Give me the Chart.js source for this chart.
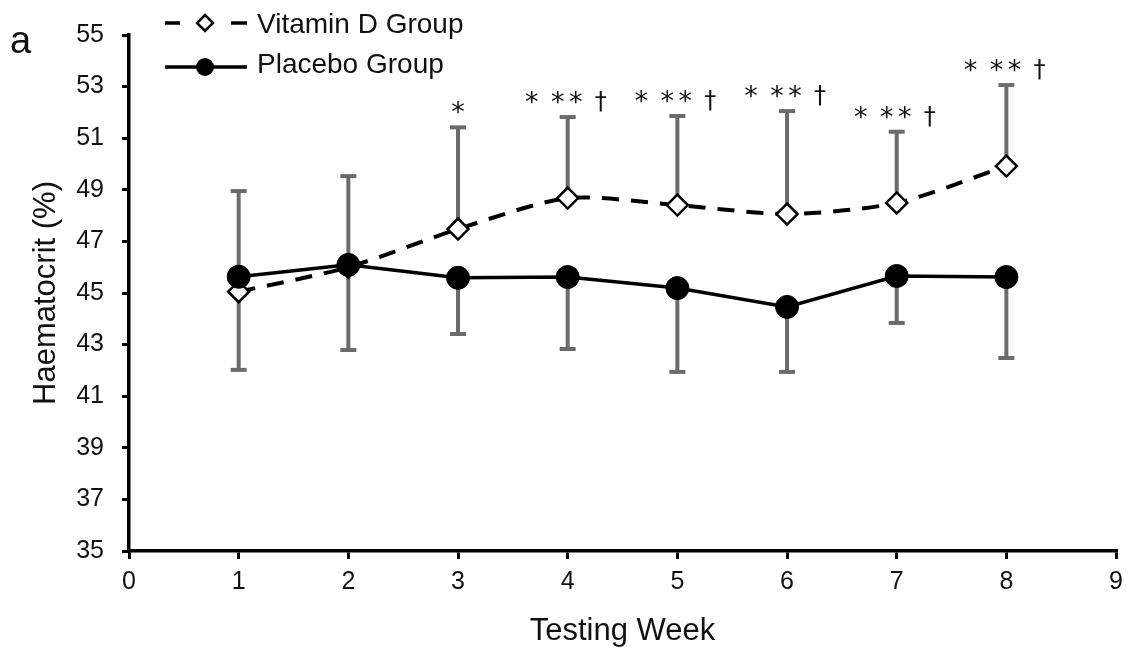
<!DOCTYPE html>
<html>
<head>
<meta charset="utf-8">
<script src="https://cdn.jsdelivr.net/npm/chart.js@4.4.1/dist/chart.umd.min.js"></script>
<style>
  html, body { margin: 0; padding: 0; background: #fff; }
  #wrap { width: 1131px; height: 651px; }
</style>
</head>
<body>
<div id="wrap"><canvas id="c" width="1131" height="651"></canvas></div>
<script>
// ---- data ----
const weeks = [1, 2, 3, 4, 5, 6, 7, 8];
const vitaminD = [45.05, 46.0, 47.48, 48.68, 48.41, 48.06, 48.49, 49.92];
const vitaminDSD = [3.9, 3.53, 3.94, 3.14, 3.45, 3.99, 2.76, 3.14];
const placebo = [45.63, 46.09, 45.59, 45.62, 45.19, 44.46, 45.66, 45.62];
const placeboSD = [3.61, 3.30, 2.18, 2.79, 3.25, 2.52, 1.82, 3.14];
const significance = ["", "", "*", "* ** †", "* ** †", "* ** †", "* ** †", "* ** †"];
const seriesNames = ["Vitamin D Group", "Placebo Group"];
const xTitle = "Testing Week";
const yTitle = "Haematocrit (%)";
const panelLabel = "a";

const FONT = "'Liberation Sans', Arial, sans-serif";
const SIGFONT = "'DejaVu Sans', sans-serif";

const errorBarPlugin = {
  id: 'errorBars',
  beforeDatasetsDraw(chart) {
    const {ctx, scales: {x, y}} = chart;
    ctx.save();
    ctx.strokeStyle = '#6b6b6b';
    ctx.lineWidth = 4;
    ctx.lineCap = 'butt';
    const cap = 8;
    weeks.forEach((w, i) => {
      const px = x.getPixelForValue(w);
      // vitamin D: upward
      let y0 = y.getPixelForValue(vitaminD[i]);
      let y1 = y.getPixelForValue(vitaminD[i] + vitaminDSD[i]);
      ctx.beginPath(); ctx.moveTo(px, y0); ctx.lineTo(px, y1); ctx.stroke();
      ctx.beginPath(); ctx.moveTo(px - cap, y1); ctx.lineTo(px + cap, y1); ctx.stroke();
      // placebo: downward
      y0 = y.getPixelForValue(placebo[i]);
      y1 = y.getPixelForValue(placebo[i] - placeboSD[i]);
      ctx.beginPath(); ctx.moveTo(px, y0); ctx.lineTo(px, y1); ctx.stroke();
      ctx.beginPath(); ctx.moveTo(px - cap, y1); ctx.lineTo(px + cap, y1); ctx.stroke();
    });
    ctx.restore();
  }
};

const annotationPlugin = {
  id: 'sigMarks',
  afterDatasetsDraw(chart) {
    const {ctx, scales: {x, y}} = chart;
    ctx.save();
    ctx.fillStyle = '#111';
    ctx.textAlign = 'center';
    ctx.textBaseline = 'alphabetic';
    weeks.forEach((w, i) => {
      const s = significance[i];
      if (!s) return;
      const px = x.getPixelForValue(w);
      const py = y.getPixelForValue(vitaminD[i] + vitaminDSD[i]) - 8;
      const groups = s.split(' ');
      const offs = groups.length === 1 ? [0] : [-36, -1, 33];
      groups.forEach((g, gi) => {
        const chars = Array.from(g);
        const step = 18;
        chars.forEach((ch, ci) => {
          const cx = px + offs[gi] + (ci - (chars.length - 1) / 2) * step;
          ctx.font = (ch === '*' ? '27px ' : '24px ') + SIGFONT;
          ctx.fillText(ch, cx, ch === '*' ? py + 2 : py);
        });
      });
    });
    ctx.restore();
  }
};

const legendPlugin = {
  id: 'customLegend',
  afterDraw(chart) {
    const ctx = chart.ctx;
    ctx.save();
    // panel label
    ctx.fillStyle = '#111';
    ctx.font = '38px ' + FONT;
    ctx.textAlign = 'left';
    ctx.textBaseline = 'alphabetic';
    ctx.fillText(panelLabel, 10, 53);

    // row 1: dashed + diamond
    ctx.strokeStyle = '#000';
    ctx.lineWidth = 3.5;
    ctx.beginPath(); ctx.moveTo(165, 23); ctx.lineTo(180, 23); ctx.stroke();
    ctx.beginPath(); ctx.moveTo(231, 23); ctx.lineTo(247, 23); ctx.stroke();
    ctx.lineWidth = 2.5;
    ctx.fillStyle = '#fff';
    ctx.beginPath();
    ctx.moveTo(205, 15); ctx.lineTo(213, 23); ctx.lineTo(205, 31); ctx.lineTo(197, 23); ctx.closePath();
    ctx.fill(); ctx.stroke();

    // row 2: solid + circle
    ctx.lineWidth = 3.5;
    ctx.beginPath(); ctx.moveTo(165, 67); ctx.lineTo(247, 67); ctx.stroke();
    ctx.fillStyle = '#000';
    ctx.beginPath(); ctx.arc(205, 67, 9, 0, Math.PI * 2); ctx.fill();

    ctx.fillStyle = '#111';
    ctx.font = '28px ' + FONT;
    ctx.fillText(seriesNames[0], 257, 33);
    ctx.fillText(seriesNames[1], 257, 73);
    ctx.restore();
  }
};

new Chart(document.getElementById('c'), {
  type: 'line',
  data: {
    datasets: [
      {
        label: seriesNames[1],
        data: weeks.map((w, i) => ({x: w, y: placebo[i]})),
        borderColor: '#000',
        borderWidth: 3.5,
        pointStyle: 'circle',
        pointRadius: 11.5,
        pointBackgroundColor: '#000',
        pointBorderColor: '#000',
        pointBorderWidth: 1,
        tension: 0,
        order: 0
      },
      {
        label: seriesNames[0],
        data: weeks.map((w, i) => ({x: w, y: vitaminD[i]})),
        borderColor: '#000',
        borderWidth: 4,
        borderDash: [17, 12],
        pointStyle: 'rectRot',
        pointRadius: 10.5,
        pointBackgroundColor: '#fff',
        pointBorderColor: '#000',
        pointBorderWidth: 2.5,
        tension: 0.25,
        order: 1
      }
    ]
  },
  options: {
    responsive: false,
    animation: false,
    devicePixelRatio: 1,
    layout: { padding: { top: 35, right: 12, left: 0, bottom: 0 } },
    plugins: { legend: { display: false }, tooltip: { enabled: false } },
    scales: {
      x: {
        type: 'linear',
        min: 0, max: 9,
        afterFit: (s) => { s.height = 100; },
        ticks: { stepSize: 1, color: '#111', font: { family: FONT, size: 25 }, padding: 8, maxRotation: 0 },
        grid: { drawOnChartArea: false, drawTicks: true, tickLength: 8, color: '#000', lineWidth: 3 },
        border: { display: true, color: '#000', width: 3.5 },
        title: { display: true, text: xTitle, color: '#111', font: { family: FONT, size: 31, lineHeight: 1 }, padding: { top: 0, bottom: 4 } }
      },
      y: {
        type: 'linear',
        min: 35, max: 55,
        afterFit: (s) => { s.width = 129; },
        ticks: { stepSize: 2, color: '#111', font: { family: FONT, size: 25 }, padding: 18 },
        grid: { drawOnChartArea: false, drawTicks: true, tickLength: 7, color: '#000', lineWidth: 3 },
        border: { display: true, color: '#000', width: 3.5 },
        title: { display: true, text: yTitle, color: '#111', font: { family: FONT, size: 31, lineHeight: 1 }, padding: { top: 31, bottom: 0 } }
      }
    }
  },
  plugins: [errorBarPlugin, annotationPlugin, legendPlugin]
});
</script>
</body>
</html>
